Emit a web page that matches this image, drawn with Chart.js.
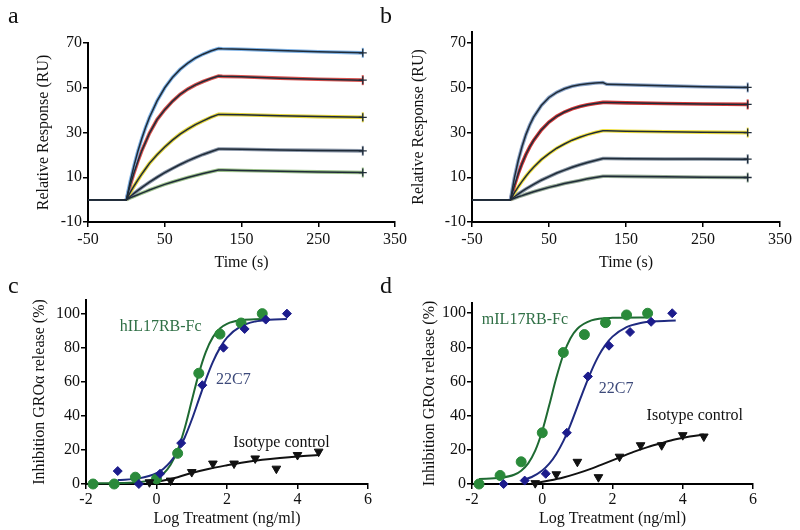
<!DOCTYPE html>
<html>
<head>
<meta charset="utf-8">
<script src="https://cdn.jsdelivr.net/npm/chart.js@4.4.1/dist/chart.umd.min.js"></script>
<style>
    html, body { margin: 0; padding: 0; background: #fff; }
    #fig { position: relative; width: 800px; height: 530px; overflow: hidden; font-family: "Liberation Serif", serif; }
    .panel { position: absolute; }
    .tag { position: absolute; font-size: 24px; line-height: 24px; color: #111; }
</style>
</head>
<body>
<div id="fig">
    <canvas id="pa" class="panel" width="420" height="276" style="left:0;top:0"></canvas>
    <canvas id="pb" class="panel" width="400" height="276" style="left:400px;top:0"></canvas>
    <canvas id="pc" class="panel" width="400" height="262" style="left:0;top:270px"></canvas>
    <canvas id="pd" class="panel" width="400" height="262" style="left:400px;top:270px"></canvas>
    <div class="tag" style="left:8px;top:3px">a</div>
    <div class="tag" style="left:380px;top:3px">b</div>
    <div class="tag" style="left:8px;top:273px">c</div>
    <div class="tag" style="left:380px;top:273px">d</div>
</div>
<script>
// --- sensorgrams (a, b): response in RU over time in s
const sprTime = [-50, 0, 5, 10, 15, 20, 25, 30, 40, 50, 60, 70, 80, 90, 100, 110, 120, 125, 150, 200, 250, 308];

const aBlue   = [0, 0, 8.1, 15.2, 21.6, 27.2, 32.2, 36.7, 44.1, 50.0, 54.6, 58.2, 61.0, 63.3, 65.0, 66.4, 67.5, 67.4, 67.2, 66.6, 66.1, 65.6];
const aRed    = [0, 0, 6.4, 12.1, 17.2, 21.8, 25.7, 29.6, 35.8, 40.2, 43.9, 47.0, 49.4, 51.3, 52.8, 54.1, 55.2, 55.1, 54.9, 54.3, 53.8, 53.4];
const aYellow = [0, 0, 3.2, 6.1, 8.8, 11.4, 13.8, 16.2, 20.1, 23.5, 26.6, 29.3, 31.5, 33.5, 35.2, 36.8, 38.1, 38.1, 37.9, 37.5, 37.1, 36.8];
const aGray   = [0, 0, 1.4, 2.8, 4.1, 5.4, 6.6, 7.8, 10.0, 12.1, 13.9, 15.7, 17.3, 18.8, 20.2, 21.4, 22.6, 22.6, 22.5, 22.2, 22.0, 21.8];
const aLow    = [0, 0, 0.8, 1.5, 2.2, 2.9, 3.6, 4.3, 5.6, 6.8, 7.9, 8.9, 9.9, 10.8, 11.7, 12.5, 13.2, 13.2, 13.0, 12.7, 12.4, 12.1];

const bBlue   = [0, 0, 9.6, 17.4, 23.8, 29.1, 33.4, 36.9, 42.1, 45.7, 48.0, 49.6, 50.7, 51.4, 51.8, 52.2, 52.4, 51.6, 51.4, 50.9, 50.5, 50.2];
const bRed    = [0, 0, 6.2, 11.6, 16.2, 20.2, 23.6, 26.5, 31.2, 34.7, 37.3, 39.2, 40.6, 41.7, 42.5, 43.0, 43.5, 43.5, 43.3, 43.0, 42.8, 42.6];
const bYellow = [0, 0, 3.0, 5.7, 8.2, 10.5, 12.6, 14.5, 17.9, 20.6, 23.0, 24.9, 26.6, 27.9, 29.1, 30.0, 30.8, 30.8, 30.6, 30.4, 30.2, 30.0];
const bGray   = [0, 0, 1.3, 2.5, 3.7, 4.8, 5.8, 6.8, 8.7, 10.3, 11.9, 13.2, 14.5, 15.6, 16.6, 17.5, 18.4, 18.4, 18.3, 18.2, 18.2, 18.1];
const bLow    = [0, 0, 0.6, 1.3, 1.8, 2.4, 3.0, 3.5, 4.5, 5.5, 6.3, 7.2, 7.9, 8.6, 9.3, 9.9, 10.5, 10.5, 10.4, 10.2, 10.0, 9.9];

const sprTicksX = [-50, 50, 150, 250, 350];
const sprTicksY = [-10, 10, 30, 50, 70];

// --- dose response (c, d): log treatment vs % inhibition
const doseTicksX = [-2, 0, 2, 4, 6];
const doseTicksY = [0, 20, 40, 60, 80, 100];

const cGreenX = [-1.8, -1.2, -0.6, 0, 0.6, 1.2, 1.8, 2.4, 3.0];
const cGreenY = [0, 0, 4, 3, 18, 65, 88, 94.5, 100];
const cBlueX  = [-1.1, -0.5, 0.1, 0.7, 1.3, 1.9, 2.5, 3.1, 3.7];
const cBlueY  = [7.6, 0, 6, 24, 58, 80, 91, 96.5, 100];
const cIsoX   = [-0.2, 0.4, 1.0, 1.6, 2.2, 2.8, 3.4, 4.0, 4.6];
const cIsoY   = [1, 2, 7, 12, 12, 15, 9, 17, 19];

const cGreenFitX = [-1.8, -1.0, -0.4, 0, 0.2, 0.4, 0.6, 0.8, 1.0, 1.2, 1.4, 1.6, 1.8, 2.0, 2.4, 3.0];
const cGreenFitY = [0.5, 0.6, 1.3, 3.5, 6.2, 11.3, 19.9, 32.7, 48.8, 64.8, 77.6, 86.2, 91.3, 94.0, 96.2, 96.9];
const cBlueFitX  = [-1.1, -0.5, 0, 0.2, 0.4, 0.6, 0.8, 1.0, 1.2, 1.4, 1.6, 1.8, 2.0, 2.4, 2.8, 3.2, 3.7];
const cBlueFitY  = [2.3, 3.3, 6.3, 9.0, 13.1, 19.1, 27.3, 37.7, 49.5, 61.3, 71.7, 79.9, 85.9, 92.6, 95.4, 96.4, 96.8];
const cIsoFitX   = [-0.2, 0.2, 0.6, 1.0, 1.5, 2.0, 2.5, 3.0, 3.5, 4.0, 4.6];
const cIsoFitY   = [0.5, 2, 4, 6.5, 9, 11, 12.8, 14.2, 15.3, 16.2, 17];

const dGreenX = [-1.8, -1.2, -0.6, 0, 0.6, 1.2, 1.8, 2.4, 3.0];
const dGreenY = [0, 5, 13, 30, 77, 87.5, 94.5, 99, 100];
const dBlueX  = [-1.1, -0.5, 0.1, 0.7, 1.3, 1.9, 2.5, 3.1, 3.7];
const dBlueY  = [0, 2, 6, 30, 63, 81, 89, 95, 100];
const dIsoX   = [-0.2, 0.4, 1.0, 1.6, 2.2, 2.8, 3.4, 4.0, 4.6];
const dIsoY   = [0.5, 5.7, 13, 4, 16, 22.7, 22.7, 28.6, 27.8];

const dGreenFitX = [-1.8, -1.2, -0.8, -0.6, -0.4, -0.2, 0, 0.2, 0.4, 0.6, 0.8, 1.0, 1.4, 2.0, 3.0];
const dGreenFitY = [3.0, 3.6, 5.4, 7.8, 12.1, 19.5, 31.0, 46.2, 62.2, 75.7, 85.2, 90.9, 95.8, 97.3, 97.5];
const dBlueFitX  = [-0.6, -0.3, 0, 0.2, 0.4, 0.6, 0.8, 1.0, 1.2, 1.4, 1.6, 1.8, 2.0, 2.4, 2.8, 3.2, 3.8];
const dBlueFitY  = [2.1, 4.1, 7.9, 11.9, 17.6, 25.1, 34.5, 45.3, 56.2, 66.3, 74.9, 81.5, 86.3, 91.9, 94.3, 95.3, 95.8];
const dIsoFitX   = [-0.2, 0.2, 0.6, 1.0, 1.4, 1.8, 2.2, 2.6, 3.0, 3.4, 3.8, 4.2, 4.6];
const dIsoFitY   = [0.5, 2, 3.8, 6.2, 9, 12.2, 15.5, 18.8, 21.6, 24, 26.2, 27.8, 29];

// curve labels inside c and d
const curveNames = ['IL17RB-Fc', '22C7', 'Isotype control'];
const cLabelX = [-1.04, 1.69, 2.18];
const cLabelY = [92.5, 61, 24.3];
const dLabelX = [-1.72, 1.61, 2.97];
const dLabelY = [96, 55.7, 40];

const SERIF = '"Liberation Serif", "Times New Roman", serif';
const INK = '#111';
const FIT_DARK = '#1f2b38';
const GREEN_PT = '#2a8a3a', GREEN_LN = '#1e6a32', GREEN_TXT = '#2f6f45';
const BLUE_PT = '#1c1c8c', BLUE_LN = '#1f2a80', BLUE_TXT = '#3d4a7a';

const toPts = (xs, ys) => xs.map((x, i) => ({ x: x, y: ys[i] }));

// texto de las curvas, colocado en coordenadas de datos
const curveText = {
    id: 'curveText',
    afterDatasetsDraw(chart, args, opts) {
        if (!opts.items) return;
        const { ctx, scales } = chart;
        ctx.save();
        ctx.font = '16px ' + SERIF;
        ctx.textAlign = 'left';
        ctx.textBaseline = 'middle';
        opts.items.forEach(it => {
            ctx.fillStyle = it.color;
            ctx.fillText(it.text, scales.x.getPixelForValue(it.x), scales.y.getPixelForValue(it.y));
        });
        ctx.restore();
    }
};

function axis(title, ticks, min, max, size, horizontal, tickPad) {
    return {
        type: 'linear', min: min, max: max,
        afterBuildTicks: s => { s.ticks = ticks.map(v => ({ value: v })); },
        afterFit: s => { if (horizontal) s.height = size; else s.width = size; },
        grid: { drawOnChartArea: false, drawTicks: true, tickLength: 5, color: '#000', lineWidth: 1.5 },
        border: { color: '#000', width: 2 },
        ticks: { color: INK, font: { family: SERIF, size: 16 }, padding: tickPad, maxRotation: 0, autoSkip: false },
        title: { display: true, text: title, color: INK, font: { family: SERIF, size: 16 }, padding: 4 }
    };
}

function sprChart(id, series, halos, pad, yMax, yWidth) {
    const datasets = [];
    series.forEach((vals, i) => {
        const pts = toPts(sprTime, vals);
        const last = pts.length - 1;
        datasets.push({
            data: pts, showLine: true, borderColor: FIT_DARK, borderWidth: 1.5, tension: 0,
            pointStyle: 'cross', pointBorderColor: FIT_DARK, pointBorderWidth: 1.3,
            pointRadius: c => c.dataIndex === last ? 4 : 0, order: 0
        });
        datasets.push({
            data: pts.slice(1), showLine: true, borderColor: halos[i], borderWidth: 3.6, tension: 0,
            pointStyle: 'line', rotation: 90, pointBorderColor: halos[i], pointBorderWidth: 2,
            pointRadius: c => c.dataIndex === last - 1 ? 5 : 0, order: 1
        });
    });
    return new Chart(document.getElementById(id), {
        type: 'scatter',
        data: { datasets: datasets },
        options: {
            responsive: false, animation: false, events: [],
            layout: { padding: pad },
            plugins: { legend: { display: false }, tooltip: { enabled: false } },
            scales: {
                x: axis('Time (s)', sprTicksX, -50, 350, 54, true, 3),
                y: axis('Relative Response (RU)', sprTicksY, -10, yMax, yWidth, false, 1)
            }
        }
    });
}

function doseChart(id, sets, labels, pad, yMax, yWidth) {
    const datasets = [];
    sets.forEach(s => {
        datasets.push({
            data: toPts(s.px, s.py), showLine: false, clip: false,
            pointStyle: s.style, rotation: s.rot || 0, pointRadius: s.r,
            backgroundColor: s.pt, borderColor: s.pt, borderWidth: 1, order: 0
        });
        datasets.push({
            data: toPts(s.fx, s.fy), showLine: true, clip: false, pointRadius: 0,
            borderColor: s.ln, borderWidth: 2, cubicInterpolationMode: 'monotone', order: 1
        });
    });
    return new Chart(document.getElementById(id), {
        type: 'scatter',
        data: { datasets: datasets },
        plugins: [curveText],
        options: {
            responsive: false, animation: false, events: [],
            layout: { padding: pad },
            plugins: { legend: { display: false }, tooltip: { enabled: false }, curveText: { items: labels } },
            scales: {
                x: axis('Log Treatment (ng/ml)', doseTicksX, -2, 6, 48, true, 1),
                y: axis('Inhibition GRO\u03b1 release (%)', doseTicksY, 0, yMax, yWidth, false, 1)
            }
        }
    });
}

sprChart('pa', [aBlue, aRed, aYellow, aGray, aLow],
    ['#7fb2e5', '#d9534f', '#e0d23a', '#8a96a8', '#9cc08a'],
    { left: 30, top: 43, right: 25, bottom: 0 }, 70, 58);

sprChart('pb', [bBlue, bRed, bYellow, bGray, bLow],
    ['#8aa4c8', '#d43838', '#f0e040', '#8896a4', '#94a894'],
    { left: 5, top: 32, right: 20, bottom: 0 }, 75, 67);

doseChart('pc', [
    { px: cIsoX, py: cIsoY, fx: cIsoFitX, fy: cIsoFitY, style: 'triangle', rot: 180, r: 5, pt: INK, ln: INK },
    { px: cBlueX, py: cBlueY, fx: cBlueFitX, fy: cBlueFitY, style: 'rectRot', r: 4.5, pt: BLUE_PT, ln: BLUE_LN },
    { px: cGreenX, py: cGreenY, fx: cGreenFitX, fy: cGreenFitY, style: 'circle', r: 5, pt: GREEN_PT, ln: GREEN_LN }
], [
    { text: 'h' + curveNames[0], x: cLabelX[0], y: cLabelY[0], color: GREEN_TXT },
    { text: curveNames[1], x: cLabelX[1], y: cLabelY[1], color: BLUE_TXT },
    { text: curveNames[2], x: cLabelX[2], y: cLabelY[2], color: INK }
], { left: 26, top: 30, right: 32, bottom: 0 }, 108, 60);

doseChart('pd', [
    { px: dIsoX, py: dIsoY, fx: dIsoFitX, fy: dIsoFitY, style: 'triangle', rot: 180, r: 5, pt: INK, ln: INK },
    { px: dBlueX, py: dBlueY, fx: dBlueFitX, fy: dBlueFitY, style: 'rectRot', r: 4.5, pt: BLUE_PT, ln: BLUE_LN },
    { px: dGreenX, py: dGreenY, fx: dGreenFitX, fy: dGreenFitY, style: 'circle', r: 5, pt: GREEN_PT, ln: GREEN_LN }
], [
    { text: 'm' + curveNames[0], x: dLabelX[0], y: dLabelY[0], color: GREEN_TXT },
    { text: curveNames[1], x: dLabelX[1], y: dLabelY[1], color: BLUE_TXT },
    { text: curveNames[2], x: dLabelX[2], y: dLabelY[2], color: INK }
], { left: 16, top: 33, right: 47, bottom: 0 }, 106, 56);
</script>
</body>
</html>
